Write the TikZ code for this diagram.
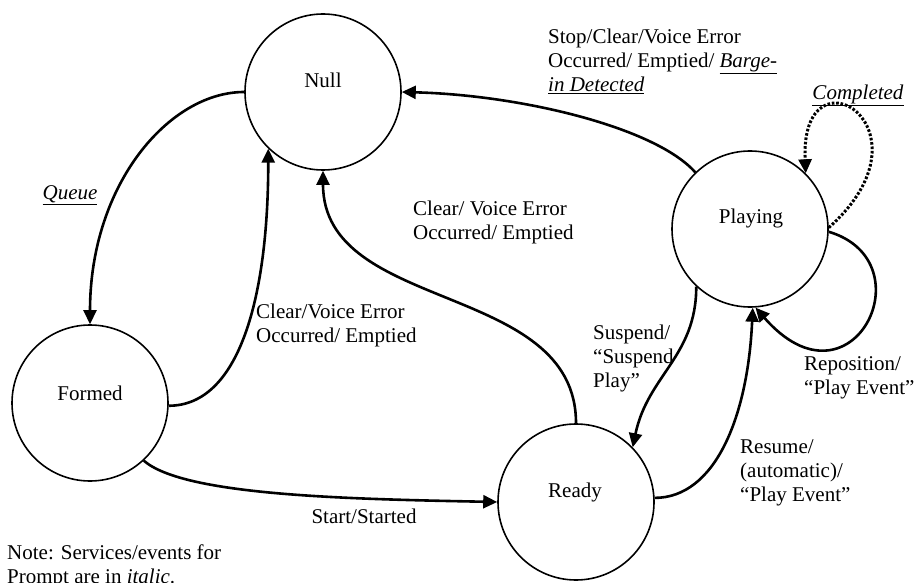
\documentclass[tikz,border=0pt]{standalone}
\usepackage{fontspec}
\setmainfont{Liberation Serif}
\usetikzlibrary{arrows.meta}

\begin{document}
\begin{tikzpicture}[x=1pt, y=1pt, font=\fontsize{21}{24}\selectfont,
  state/.style={draw, circle, line width=1.6pt, minimum size=156pt, inner sep=0pt},
  trans/.style={-{Triangle[length=14pt, width=13pt]}, line width=2.6pt},
  prompt/.style={trans, dash pattern=on 2.6pt off 1.8pt, line width=3pt},
  lbl/.style={anchor=west, align=left, inner sep=0pt}]

  \useasboundingbox (0,0) rectangle (915,582);

  % States
  \node[state] (Null) at (323,490) {};
  \node[] (NullText) at (323,502) {Null};
  \node[state] (Formed) at (90,179) {};
  \node[] (FormedText) at (90,189) {Formed};
  \node[state] (Playing) at (750,353) {};
  \node[] (PlayingText) at (751,364) {Playing};
  \node[state] (Ready) at (576,80) {};
  \node[] (ReadyText) at (575,90) {Ready};

  % Transitions into Null
  \draw[trans] (Null.west) .. controls +(-75,0) and +(0,140) .. (Formed.north);
  \draw[trans] (Formed.-2) .. controls +(70,0) and +(0,-150) .. (Null.226);
  \draw[trans] (Ready.north) .. controls +(0,142) and +(0,-143) .. (Null.south);
  \draw[trans] (Playing.134) .. controls +(-40,45) and +(119,-3) .. (Null.east);

  % Transitions between Formed, Ready and Playing
  \draw[trans] (Formed.-47) .. controls +(40,-35) and +(-150,3) .. (Ready.west);
  \draw[trans] (Playing.227) .. controls +(0,-70) and +(15,72) .. (Ready.44);
  \draw[trans] (Ready.3) .. controls +(60,0) and +(-5,-110) .. (Playing.-88);

  % Self loops on Playing
  \draw[trans] (Playing.-2) .. controls +(100,-30) and +(96,-110) .. (Playing.-86);
  \draw[prompt] (Playing.1) .. controls +(112,100) and +(-6,131) .. (Playing.45);

  % Labels
  \node[lbl] (StopLbl) at (548,521) {Stop/Clear/Voice Error\\Occurred/ Emptied/ \underline{\textit{Barge-}}\\\underline{\textit{in Detected}}};
  \node[] (CompletedLbl) at (858,487) {\underline{\textit{Completed}}};
  \node[] (QueueLbl) at (70,387) {\underline{\textit{Queue}}};
  \node[lbl] (FormedNullLbl) at (256,257) {Clear/Voice Error\\Occurred/ Emptied};
  \node[lbl] (ReadyNullLbl) at (413,360) {Clear/ Voice Error\\Occurred/ Emptied};
  \node[lbl] (SuspendLbl) at (593,224) {Suspend/\\“Suspend\\Play”};
  \node[lbl] (RepositionLbl) at (804,204) {Reposition/\\“Play Event”};
  \node[lbl] (ResumeLbl) at (740,109) {Resume/\\(automatic)/\\“Play Event”};
  \node[] (StartLbl) at (364,66) {Start/Started};
  \node[lbl] (NoteLbl) at (7,16) {Note: Services/events for\\Prompt are in \textit{italic}.};

\end{tikzpicture}
\end{document}
